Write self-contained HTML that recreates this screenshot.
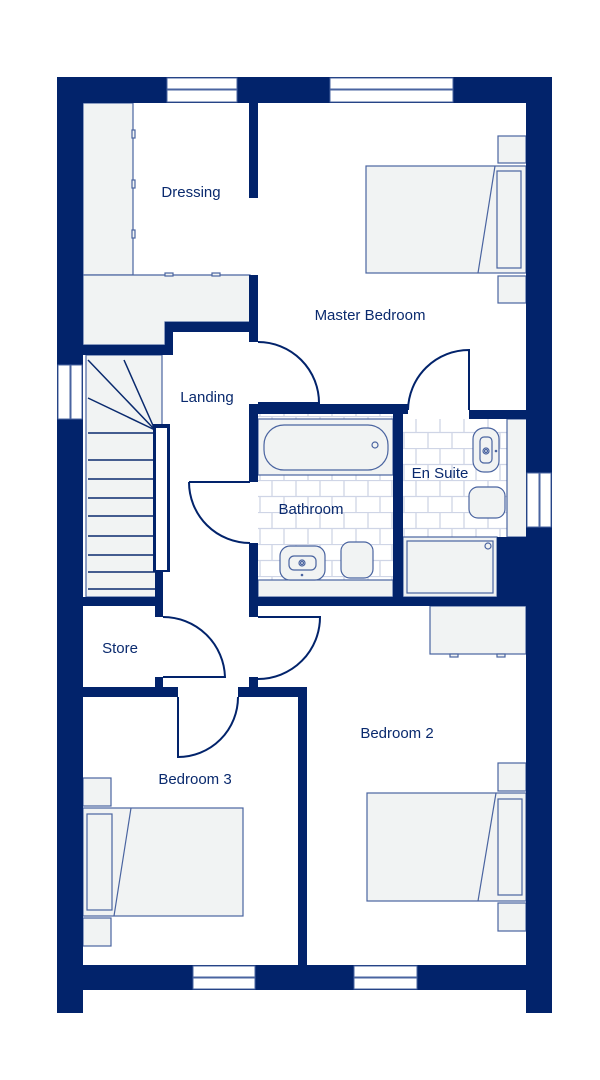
<!DOCTYPE html>
<html><head><meta charset="utf-8"><style>
html,body{margin:0;padding:0;background:#fff;}
svg{display:block}
text{font-family:"Liberation Sans",sans-serif;font-size:15px;fill:#0a2a6e;text-anchor:middle;}
</style></head><body>
<svg width="600" height="1080" viewBox="0 0 600 1080" xmlns="http://www.w3.org/2000/svg">
<defs>
<pattern id="tile" x="0" y="0" width="48" height="32" patternUnits="userSpaceOnUse">
<rect width="48" height="32" fill="#fff"/>
<path d="M0 0.5H48M0 16.5H48M8 0V16M32 0V16M20 16V32M44 16V32" stroke="#cfd5e6" stroke-width="1.3" fill="none"/>
</pattern>
</defs>
<g fill="#f1f3f3" stroke="#4a64a0" stroke-width="1.2">
<!-- dressing fittings -->
<rect x="83" y="103" width="50" height="172"/>
<path d="M83 275H250V322H165V345H83Z"/>
<rect x="132" y="130" width="3" height="8"/><rect x="132" y="180" width="3" height="8"/><rect x="132" y="230" width="3" height="8"/>
<rect x="165" y="273" width="8" height="3"/><rect x="212" y="273" width="8" height="3"/>
<!-- stairs -->
<rect x="86" y="355" width="76" height="242"/>
</g>
<g stroke="#0a2a6e" stroke-width="1.5" fill="none">
<path d="M88 360L155 430M124 360L155 430M88 398L155 430"/>
<path d="M88 433H155M88 460H155M88 479H155M88 498H155M88 516H155M88 536H155M88 555H155M88 572H155M88 589H155"/>
</g>
<!-- bathroom + ensuite tiles -->
<rect x="258" y="414" width="135" height="183" fill="url(#tile)"/>
<rect x="403" y="419" width="105" height="118" fill="url(#tile)"/>
<g fill="#f1f3f3" stroke="#4a64a0" stroke-width="1.2">
<rect x="258" y="419" width="135" height="56"/>
<rect x="264" y="425" width="124" height="45" rx="20"/>
<rect x="258" y="580" width="135" height="17"/>
<rect x="280" y="546" width="45" height="34" rx="10"/>
<rect x="289" y="556" width="27" height="14" rx="5"/>
<rect x="341" y="542" width="32" height="36" rx="9"/>
<rect x="507" y="419" width="20" height="118"/>
<rect x="473" y="428" width="26" height="44" rx="11"/>
<rect x="480" y="437" width="12" height="26" rx="4"/>
<rect x="469" y="487" width="36" height="31" rx="9"/>
<rect x="403" y="537" width="94" height="60"/>
<rect x="407" y="541" width="86" height="52"/>
<!-- master bed -->
<rect x="498" y="136" width="28" height="27"/><rect x="498" y="276" width="28" height="27"/>
<rect x="366" y="166" width="160" height="107"/>
<rect x="497" y="171" width="24" height="97"/>
<!-- bedroom 2 -->
<rect x="430" y="606" width="96" height="48"/>
<rect x="450" y="654" width="8" height="3"/><rect x="497" y="654" width="8" height="3"/>
<rect x="498" y="763" width="28" height="28"/><rect x="498" y="903" width="28" height="28"/>
<rect x="367" y="793" width="159" height="108"/>
<rect x="498" y="799" width="24" height="96"/>
<!-- bedroom 3 -->
<rect x="83" y="778" width="28" height="28"/><rect x="83" y="918" width="28" height="28"/>
<rect x="83" y="808" width="160" height="108"/>
<rect x="87" y="814" width="25" height="96"/>
</g>
<g stroke="#4a64a0" stroke-width="1.2" fill="none">
<path d="M495 166L478 273M496 793L478 901M131 808L114 916"/>
<circle cx="375" cy="445" r="3"/><circle cx="302" cy="563" r="3"/><circle cx="302" cy="563" r="1.5"/>
<circle cx="486" cy="451" r="3"/><circle cx="486" cy="451" r="1.5"/><circle cx="488" cy="546" r="3"/>
</g>
<g fill="#4a64a0"><circle cx="302" cy="575" r="1.3"/><circle cx="496" cy="451" r="1.3"/></g>
<!-- walls -->
<g fill="#02236b">
<rect x="57" y="77" width="495" height="26"/>
<rect x="57" y="77" width="26" height="936"/>
<rect x="526" y="77" width="26" height="936"/>
<rect x="57" y="965" width="495" height="25"/>
<rect x="249" y="103" width="9" height="95"/>
<rect x="249" y="275" width="9" height="67"/>
<rect x="165" y="322" width="93" height="10"/>
<rect x="165" y="322" width="8" height="33"/>
<rect x="83" y="345" width="90" height="10"/>
<rect x="153" y="424" width="17" height="148"/>
<rect x="155" y="572" width="8" height="45"/>
<rect x="83" y="597" width="80" height="9"/>
<rect x="155" y="677" width="8" height="20"/>
<rect x="83" y="687" width="95" height="10"/>
<rect x="238" y="687" width="69" height="10"/>
<rect x="298" y="687" width="9" height="278"/>
<rect x="249" y="597" width="9" height="20"/>
<rect x="249" y="677" width="9" height="20"/>
<rect x="249" y="597" width="277" height="9"/>
<rect x="249" y="404" width="9" height="78"/>
<rect x="249" y="543" width="9" height="63"/>
<rect x="249" y="404" width="159" height="10"/>
<rect x="469" y="410" width="57" height="9"/>
<rect x="393" y="410" width="10" height="190"/>
<rect x="497" y="537" width="30" height="65"/>
</g>
<!-- windows -->
<g fill="#fff" stroke="#4a64a0" stroke-width="1">
<rect x="167" y="78" width="70" height="11"/><rect x="167" y="90" width="70" height="12"/>
<rect x="330" y="78" width="123" height="11"/><rect x="330" y="90" width="123" height="12"/>
<rect x="58" y="365" width="12" height="54"/><rect x="71" y="365" width="11" height="54"/>
<rect x="527" y="473" width="12" height="54"/><rect x="540" y="473" width="11" height="54"/>
<rect x="193" y="966" width="62" height="11"/><rect x="193" y="978" width="62" height="11"/>
<rect x="354" y="966" width="63" height="11"/><rect x="354" y="978" width="63" height="11"/>
</g>
<rect x="156" y="428" width="11" height="142" fill="#fff" stroke="none"/>
<!-- doors -->
<g stroke="#02236b" stroke-width="2" fill="none">
<path d="M258 342A61 61 0 0 1 319 403H258"/>
<path d="M189 482H250M189 482A61 61 0 0 0 250 543"/>
<path d="M469 410V350A61 61 0 0 0 408 410"/>
<path d="M163 617A62 62 0 0 1 225 677H163"/>
<path d="M258 617H320A62 62 0 0 1 258 679"/>
<path d="M178 697V757A60 60 0 0 0 238 697"/>
</g>
<text x="191" y="197">Dressing</text>
<text x="370" y="320">Master Bedroom</text>
<text x="207" y="402">Landing</text>
<text x="311" y="514">Bathroom</text>
<text x="440" y="478">En Suite</text>
<text x="120" y="653">Store</text>
<text x="195" y="784">Bedroom 3</text>
<text x="397" y="738">Bedroom 2</text>
</svg>
</body></html>
